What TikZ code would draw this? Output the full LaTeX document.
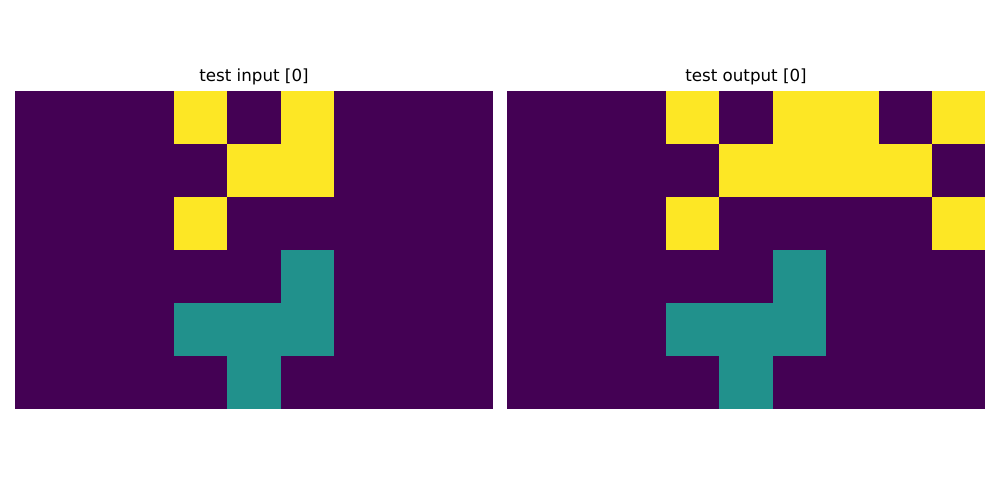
\documentclass[tikz,border=0pt]{standalone}
\usepackage{fontspec}
\setmainfont{DejaVu Sans}
\definecolor{vpurple}{HTML}{440154}
\definecolor{vyellow}{HTML}{FDE725}
\definecolor{vteal}{HTML}{21918C}
\begin{document}
\begin{tikzpicture}[x=1pt,y=-1pt,
  titletext/.style={font=\fontsize{16.7}{20}\selectfont, inner sep=0pt, anchor=base}]
\useasboundingbox[fill=white] (0,0) rectangle (1000,500);
% cell size
\def\cw{53.111}
\def\ch{53}
% left grid
\fill[vpurple] (15,91) rectangle (493,409);
\foreach \r/\c/\col in {0/3/vyellow,0/5/vyellow,1/4/vyellow,1/5/vyellow,2/3/vyellow,
  3/5/vteal,4/3/vteal,4/4/vteal,4/5/vteal,5/4/vteal}{
  \fill[\col] ({15+\c*\cw},{91+\r*\ch}) rectangle ({15+(\c+1)*\cw},{91+(\r+1)*\ch});
}
% right grid
\fill[vpurple] (507,91) rectangle (985,409);
\foreach \r/\c/\col in {0/3/vyellow,0/5/vyellow,0/6/vyellow,0/8/vyellow,
  1/4/vyellow,1/5/vyellow,1/6/vyellow,1/7/vyellow,2/3/vyellow,2/8/vyellow,
  3/5/vteal,4/3/vteal,4/4/vteal,4/5/vteal,5/4/vteal}{
  \fill[\col] ({507+\c*\cw},{91+\r*\ch}) rectangle ({507+(\c+1)*\cw},{91+(\r+1)*\ch});
}
\node[titletext] (tin) at (254,82) {test input [0]};
\node[titletext] (tout) at (746,82) {test output [0]};
\end{tikzpicture}
\end{document}
